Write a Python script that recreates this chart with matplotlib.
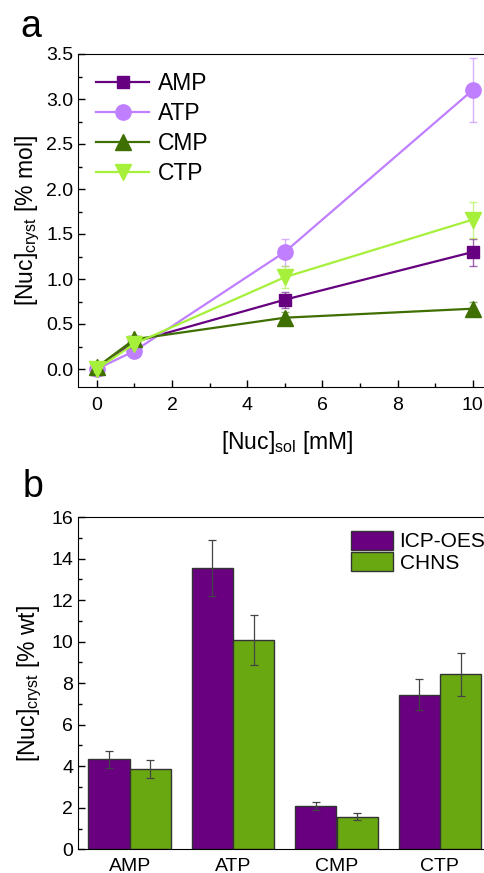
import numpy as np
import matplotlib
matplotlib.use('Agg')
import matplotlib.pyplot as plt
from matplotlib.ticker import MultipleLocator, FormatStrFormatter

plt.rcParams['font.family'] = ['Liberation Sans', 'DejaVu Sans']
plt.rcParams['mathtext.fontset'] = 'custom'
plt.rcParams['mathtext.rm'] = 'Liberation Sans'
plt.rcParams['mathtext.it'] = 'Liberation Sans:italic'

# ---- panel a data ----
conc = [0, 1, 5, 10]
amp = [0.0, 0.30, 0.77, 1.30]
amp_err = [0.03, 0.03, 0.09, 0.15]
atp = [0.0, 0.20, 1.30, 3.10]
atp_err = [0.03, 0.03, 0.15, 0.36]
cmp_ = [0.02, 0.33, 0.57, 0.67]
cmp_err = [0.03, 0.03, 0.06, 0.08]
ctp = [0.0, 0.28, 1.02, 1.66]
ctp_err = [0.03, 0.03, 0.12, 0.20]

# ---- panel b data ----
nucs = ['AMP', 'ATP', 'CMP', 'CTP']
icp = [4.33, 13.55, 2.10, 7.45]
icp_err = [0.42, 1.35, 0.20, 0.75]
chns = [3.86, 10.08, 1.57, 8.42]
chns_err = [0.45, 1.22, 0.18, 1.02]

c_amp = '#660080'
c_atp = '#bf7fff'
c_cmp = '#3f6f00'
c_ctp = '#a6f03c'
c_bar1 = '#680080'
c_bar2 = '#6aa812'

fig = plt.figure(figsize=(4.84, 8.73), dpi=100)

# ========================= panel a =========================
ax1 = fig.add_axes([78/484, 1-387/873, 413.6/484, 333/873])
series = [('AMP', amp, amp_err, c_amp, 's', 8),
          ('ATP', atp, atp_err, c_atp, 'o', 11),
          ('CMP', cmp_, cmp_err, c_cmp, '^', 11),
          ('CTP', ctp, ctp_err, c_ctp, 'v', 11)]
for name, y, e, col, mk, ms in series:
    ax1.errorbar(conc, y, yerr=e, fmt='none', ecolor=col, elinewidth=1.0,
                 capsize=3, capthick=1.0, alpha=0.6)
    ax1.plot(conc, y, color=col, marker=mk, markersize=ms, lw=1.6,
             label=name)
ax1.set_xlim(-0.5, 10.5)
ax1.set_ylim(-0.2, 3.5)
ax1.xaxis.set_major_locator(MultipleLocator(2))
ax1.xaxis.set_minor_locator(MultipleLocator(1))
ax1.yaxis.set_major_locator(MultipleLocator(0.5))
ax1.yaxis.set_minor_locator(MultipleLocator(0.25))
ax1.yaxis.set_major_formatter(FormatStrFormatter('%.1f'))
ax1.tick_params(which='both', direction='in', labelsize=14, width=1.0)
ax1.tick_params(which='major', length=5)
ax1.tick_params(which='minor', length=3)
ax1.tick_params(axis='x', pad=7)
ax1.set_xlabel(r'[Nuc]$_{\mathrm{sol}}$ [mM]', fontsize=16.5)
ax1.xaxis.set_label_coords(0.505, -0.125)
ax1.set_ylabel(r'[Nuc]$_{\mathrm{cryst}}$ [% mol]', fontsize=16.5, labelpad=3)
ax1.legend(loc='upper left', bbox_to_anchor=(0.0, 1.0), frameon=False,
           fontsize=16.5, handlelength=2.3, handletextpad=0.4,
           labelspacing=0.3, borderaxespad=0.4)
fig.text(31/484, 1-27/873, 'a', fontsize=27, ha='center', va='center')

# ========================= panel b =========================
ax2 = fig.add_axes([78/484, 1-849.3/873, 413.6/484, 332.3/873])
x = np.arange(1, len(nucs) + 1)
w = 0.4
ax2.bar(x - w/2, icp, w, color=c_bar1, edgecolor='#333333', lw=1.0,
        label='ICP-OES', zorder=2)
ax2.bar(x + w/2, chns, w, color=c_bar2, edgecolor='#333333', lw=1.0,
        label='CHNS', zorder=2)
ax2.errorbar(x - w/2, icp, yerr=icp_err, fmt='none', ecolor='#444444',
             elinewidth=0.9, capsize=3, capthick=0.9, zorder=3)
ax2.errorbar(x + w/2, chns, yerr=chns_err, fmt='none', ecolor='#444444',
             elinewidth=0.9, capsize=3, capthick=0.9, zorder=3)
ax2.set_xlim(0.5, 4.5)
ax2.set_ylim(0, 16)
ax2.set_xticks(x)
ax2.set_xticklabels(nucs)
ax2.yaxis.set_major_locator(MultipleLocator(2))
ax2.yaxis.set_minor_locator(MultipleLocator(1))
ax2.tick_params(which='both', direction='in', labelsize=14, width=1.0)
ax2.tick_params(axis='x', length=0, pad=6, labelsize=14)
ax2.tick_params(axis='y', which='major', length=5)
ax2.tick_params(axis='y', which='minor', length=3)
ax2.set_ylabel(r'[Nuc]$_{\mathrm{cryst}}$ [% wt]', fontsize=16.5, labelpad=5)
ax2.legend(loc='upper left', bbox_to_anchor=(0.659, 0.958), frameon=False,
           fontsize=15, handlelength=2.05, handleheight=1.0,
           handletextpad=0.3, labelspacing=0.05, borderaxespad=0.0,
           borderpad=0.0)
fig.text(33/484, 1-487/873, 'b', fontsize=27, ha='center', va='center')

fig.savefig('out.png', dpi=100)
